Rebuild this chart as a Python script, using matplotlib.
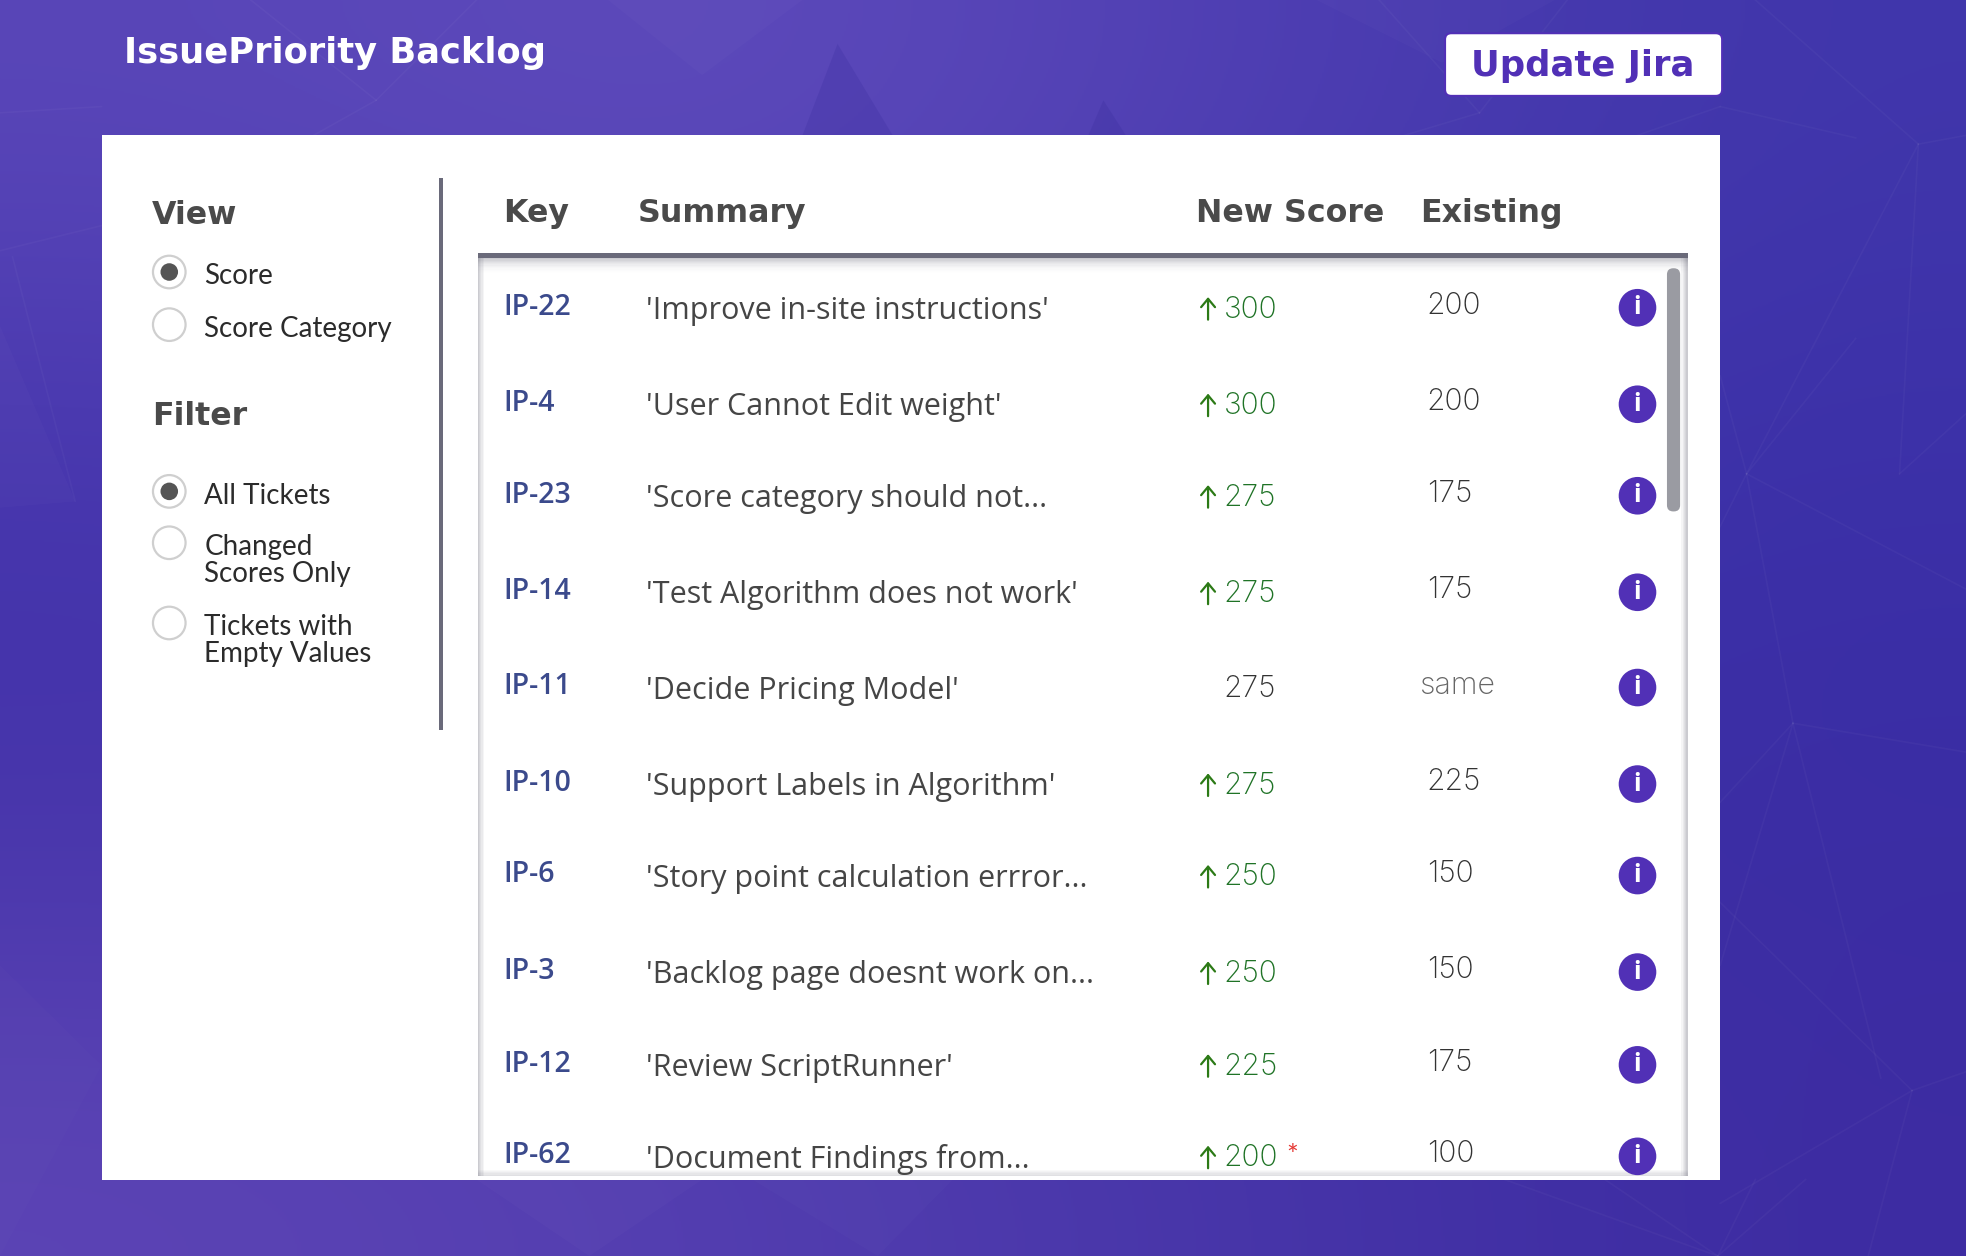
import numpy as np
from matplotlib import pyplot as plt
from matplotlib.patches import Circle, FancyBboxPatch, Polygon, Rectangle

keys = ['IP-22', 'IP-4', 'IP-23', 'IP-14', 'IP-11', 'IP-10', 'IP-6', 'IP-3', 'IP-12', 'IP-62']
summaries = ["'Improve in-site instructions'", "'User Cannot Edit weight'",
             "'Score category should not...", "'Test Algorithm does not work'",
             "'Decide Pricing Model'", "'Support Labels in Algorithm'",
             "'Story point calculation errror...", "'Backlog page doesnt work on...",
             "'Review ScriptRunner'", "'Document Findings from..."]
new_scores = [300, 300, 275, 275, 275, 275, 250, 250, 225, 200]
existing = ['200', '200', '175', '175', 'same', '225', '150', '150', '175', '100']
starred = ['IP-62']
headers = ['Key', 'Summary', 'New Score', 'Existing']
view_options = ['Score', 'Score Category']
filter_options = ['All Tickets', 'Changed\nScores Only', 'Tickets with\nEmpty Values']

# layout, in pixels of a 1568 wide view
row_y = [245, 322, 395, 472, 548, 625, 698, 775, 849, 922]
header_x = [401.5, 508.5, 954, 1132.5]
view_y = [217, 259]
filter_y = [392, 433, 497]

PURPLE = '#5130b6'
DARK = '#4a4a4a'
RULE = '#6a6a7a'
GREEN = '#1f7326'
NAVY = '#3b4a8c'
HEAD_FONT = 'DejaVu Sans'
BODY_FONT = 'Open Sans'
SCORE_FONT = 'Inter'

# corner colours of the backdrop
backdrop = np.array([
    [[0x59, 0x46, 0xb8], [0x5f, 0x4c, 0xbc], [0x50, 0x3f, 0xb3], [0x40, 0x36, 0xab]],
    [[0x45, 0x35, 0xad], [0x4e, 0x3d, 0xb1], [0x42, 0x36, 0xab], [0x3b, 0x30, 0xa8]],
    [[0x44, 0x33, 0xa9], [0x44, 0x34, 0xaa], [0x3e, 0x30, 0xa6], [0x3a, 0x2d, 0xa4]],
    [[0x5c, 0x44, 0xb5], [0x53, 0x3e, 0xb0], [0x48, 0x36, 0xa9], [0x3d, 0x2c, 0xa2]],
]) / 255

# faint facets of the low poly backdrop
facets = [
    ([668, 35], [640, 108], [712, 108], '#3c2fa0', 0.28),
    ([880, 80], [868, 108], [898, 108], '#3c2fa0', 0.30),
    ([0, 405], [60, 400], [0, 260], '#ffffff', 0.02),
    ([485, 0], [640, 0], [560, 60], '#ffffff', 0.02),
    ([1050, 0], [1240, 0], [1150, 50], '#ffffff', 0.02),
    ([0, 770], [81, 850], [0, 1002], '#ffffff', 0.012),
    ([380, 941], [560, 941], [470, 1002], '#ffffff', 0.02),
    ([600, 941], [760, 941], [700, 1002], '#ffffff', 0.015),
]
web = [
    [(1393, 378), (1372, 300)], [(1393, 378), (1480, 270)], [(1393, 378), (1568, 470)],
    [(1393, 378), (1430, 577)], [(1393, 378), (1372, 420)], [(1430, 577), (1372, 640)],
    [(1430, 577), (1568, 600)], [(1430, 577), (1500, 860)], [(1430, 577), (1372, 770)],
    [(1530, 115), (1400, 0)], [(1530, 115), (1393, 378)], [(1530, 115), (1568, 108)],
    [(1530, 115), (1515, 378)], [(1515, 378), (1568, 330)], [(1525, 870), (1372, 720)],
    [(1525, 870), (1568, 855)], [(1525, 870), (1490, 1002)], [(1525, 870), (1372, 960)],
    [(1372, 85), (1300, 110)], [(1372, 85), (1480, 110)], [(1180, 90), (1100, 0)],
    [(1180, 90), (1250, 0)], [(1180, 90), (1120, 108)], [(1370, 1002), (1280, 941)],
    [(1370, 1002), (1200, 941)], [(1370, 1002), (1440, 941)], [(1370, 1002), (1400, 941)],
    [(0, 200), (81, 180)], [(10, 205), (60, 400)], [(0, 90), (81, 85)],
    [(300, 80), (200, 0)], [(300, 80), (250, 108)], [(300, 80), (380, 0)],
]

fig = plt.figure(figsize=(19.66, 12.56), dpi=100)
ax = fig.add_axes([0, 0, 1, 1])
ax.imshow(backdrop, extent=(0, 1568, 1002, 0), interpolation='bicubic', aspect='auto', zorder=0)
ax.set_xlim(0, 1568)
ax.set_ylim(1002, 0)
ax.axis('off')

for a, b, c, colour, alpha in facets:
    ax.add_patch(Polygon([a, b, c], facecolor=colour, alpha=alpha, edgecolor='none', zorder=1))
for start, end in web:
    ax.plot(*zip(start, end), color='#ffffff', alpha=0.03, lw=1.2, zorder=1)

ax.text(99, 42, 'IssuePriority Backlog', color='white', fontsize=25.4, fontweight='bold',
        family=HEAD_FONT, va='center', ha='left', zorder=5)

ax.add_patch(FancyBboxPatch((1152.5, 26.5), 221, 50, boxstyle='round,pad=0,rounding_size=5',
                            facecolor='white', edgecolor=PURPLE, lw=1.5, zorder=3))
ax.text(1262, 53, 'Update Jira', color=PURPLE, fontsize=25.5, fontweight='bold',
        family=HEAD_FONT, va='center', ha='center', zorder=5)

# white card
ax.add_patch(Rectangle((81, 108), 1291, 833, facecolor='white', edgecolor='none', zorder=2))
ax.add_patch(Rectangle((350, 142), 3, 440, facecolor=RULE, edgecolor='none', zorder=3))

# shadows around the table
for i in range(5):
    alpha = 0.30 * (1 - i / 5)
    ax.add_patch(Rectangle((381 + i, 204), 1, 734, facecolor='#555566', alpha=alpha, edgecolor='none', zorder=3))
    ax.add_patch(Rectangle((1345 - i, 204), 1, 734, facecolor='#555566', alpha=alpha, edgecolor='none', zorder=3))
    ax.add_patch(Rectangle((381, 937 - i), 965, 1, facecolor='#555566', alpha=alpha * 0.6, edgecolor='none', zorder=3))
for i in range(12):
    alpha = 0.30 * (1 - i / 12) ** 2
    ax.add_patch(Rectangle((381, 206 + i), 965, 1, facecolor='#555566', alpha=alpha, edgecolor='none', zorder=3))
ax.add_patch(Rectangle((381, 202), 965, 4, facecolor=RULE, edgecolor='none', zorder=4))

# scroll bar
ax.add_patch(FancyBboxPatch((1329.5, 214), 10.5, 194, boxstyle='round,pad=0,rounding_size=5',
                            facecolor='#9a9ba2', edgecolor='none', zorder=4))

for label, x in zip(headers, header_x):
    ax.text(x, 170, label, color=DARK, fontsize=22.8, fontweight='bold', family=HEAD_FONT,
            va='center', ha='left', zorder=5)

ax.text(121, 172, 'View', color=DARK, fontsize=22.8, fontweight='bold', family=HEAD_FONT, va='center', zorder=5)
ax.text(121, 332, 'Filter', color=DARK, fontsize=22.8, fontweight='bold', family=HEAD_FONT, va='center', zorder=5)


def draw_radios(labels, ys, selected):
    for i, (label, y) in enumerate(zip(labels, ys)):
        ax.add_patch(Circle((135, y), 13, facecolor='white', edgecolor='#cfcfcf', lw=1.6, zorder=4))
        if i == selected:
            ax.add_patch(Circle((135, y), 7, facecolor='#555555', edgecolor='none', zorder=5))
        ax.text(163, y - 7, label, color='#2b2b2b', fontsize=20, family='Lato', va='top', ha='left',
                linespacing=1.05, zorder=5)


draw_radios(view_options, view_y, 0)
draw_radios(filter_options, filter_y, 0)

for key, summary, score, old, y in zip(keys, summaries, new_scores, existing, row_y):
    ax.text(401.5, y, key, color=NAVY, fontsize=20.5, fontweight='semibold', family=BODY_FONT,
            va='center', ha='left', zorder=5)
    ax.text(515, y + 3, summary, color='#454545', fontsize=22, family=BODY_FONT, va='center', ha='left', zorder=5)
    if old == 'same':
        ax.text(976, y + 2, str(score), color='#333333', fontsize=21.5, family=SCORE_FONT, fontweight='light',
                va='center', ha='left', zorder=5)
        ax.text(1132, y - 1, old, color='#666666', fontsize=22, family=SCORE_FONT, fontweight='light',
                va='center', ha='left', zorder=5)
    else:
        ax.annotate('', xy=(963.5, y - 8), xytext=(963.5, y + 10),
                    arrowprops=dict(arrowstyle='->,head_width=0.5,head_length=0.6', color='#2c7a16', lw=1.6,
                                    shrinkA=0, shrinkB=0), zorder=5)
        ax.text(976, y + 2, str(score), color=GREEN, fontsize=21.5, family=SCORE_FONT, fontweight='light',
                va='center', ha='left', zorder=5)
        ax.text(1138, y - 1, old, color='#333333', fontsize=21.5, family=SCORE_FONT, fontweight='light',
                va='center', ha='left', zorder=5)
    if key in starred:
        ax.text(1031, y + 1, '*', color='#e53935', fontsize=20, family='Lato', va='center', ha='center', zorder=5)
    badge = Circle((1306, y + 0.5), 15, facecolor=PURPLE, edgecolor='none', zorder=5)
    ax.add_patch(badge)
    badge.set_clip_path(Rectangle((381, 206), 965, 732, transform=ax.transData))
    ax.text(1306, y + 0.5, 'i', color='white', fontsize=18, fontweight='bold', family=BODY_FONT,
            va='center', ha='center', zorder=6)

fig.savefig('out.png', dpi=100)
